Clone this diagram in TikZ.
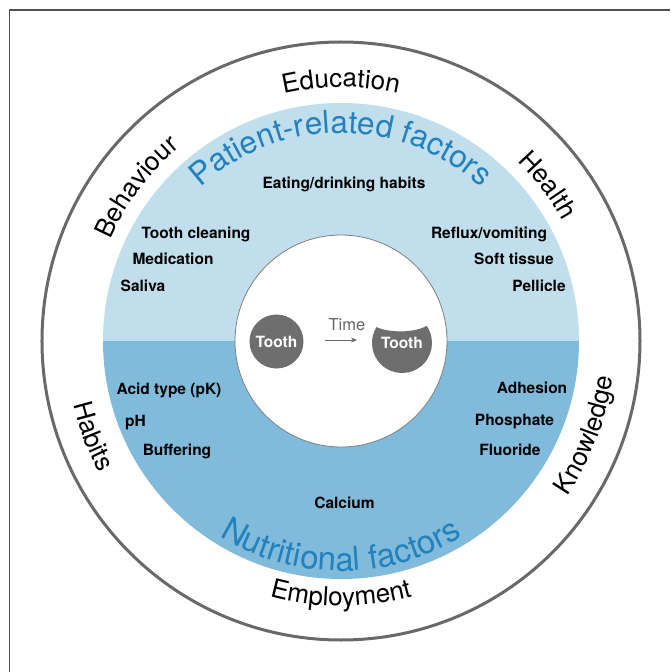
\documentclass[tikz,border=0pt]{standalone}
\usepackage{fontspec}
\setmainfont{TeX Gyre Heros}
\usetikzlibrary{decorations.text,arrows.meta}
\definecolor{lightblue}{RGB}{192,222,236}
\definecolor{darkblue}{RGB}{128,187,220}
\definecolor{titleblue}{RGB}{35,130,190}
\definecolor{ringgray}{RGB}{105,105,105}
\definecolor{toothgray}{RGB}{110,110,110}
\definecolor{framegray}{RGB}{80,80,80}
\begin{document}
\begin{tikzpicture}[x=1pt,y=1pt,
  lbl/.style={font=\bfseries\fontsize{15.5}{18}\selectfont, anchor=base, inner sep=0pt},
  toothtxt/.style={font=\bfseries\fontsize{15.5}{18}\selectfont, text=white, inner sep=0pt},
  outertxt/.style={decorate, decoration={text along path, text align=center,
     text={|\fontsize{26}{26}\selectfont|#1}}},
  titletxt/.style 2 args={decorate, decoration={text along path, text align=center,
     text={|\color{titleblue}\fontsize{#1}{#1}\selectfont|#2}}}
 ]
\useasboundingbox (-341,-331) rectangle (329,341);
\fill[white] (-341,-331) rectangle (329,341);
\coordinate (fbl) at (-331.5,-331);
\coordinate (ftl) at (-331.5,331);
\coordinate (ftr) at (329,331);
\draw[framegray, line width=1.5] (fbl) -- (ftl) -- (ftr);

\coordinate (C) at (0,0);
\draw[ringgray, line width=3] (C) circle[radius=299];
\fill[lightblue] (238,0) arc[start angle=0,end angle=180,radius=238] -- cycle;
\fill[darkblue] (-238,0) arc[start angle=180,end angle=360,radius=238] -- cycle;
\filldraw[fill=white, draw=gray, line width=0.8] (C) circle[radius=106];

% outer labels (top half: clockwise, bottom half: counter-clockwise)
\path[outertxt=Education] (130:254) arc[start angle=130,end angle=50,radius=254];
\path[outertxt=Behaviour] (183:252) arc[start angle=183,end angle=103,radius=252];
\path[outertxt=Health] (77:252) arc[start angle=77,end angle=-3,radius=252];
\path[outertxt=Employment] (230:265) arc[start angle=230,end angle=310,radius=265];
\path[outertxt=Habits] (161:275) arc[start angle=161,end angle=241,radius=275];
\path[outertxt=Knowledge] (-61:274) arc[start angle=-61,end angle=19,radius=274];

% titles
\path[titletxt={31.5}{Patient-related factors}] (150:208) arc[start angle=150,end angle=30,radius=208];
\path[titletxt={33}{Nutritional factors}] (210:230) arc[start angle=210,end angle=330,radius=230];

% inner labels
\node[lbl] (eat) at (3,152.5) {Eating/drinking habits};
\node[lbl] (clean) at (-145,102.5) {Tooth cleaning};
\node[lbl] (med) at (-168,77) {Medication};
\node[lbl] (sal) at (-198,49.5) {Saliva};
\node[lbl] (reflux) at (148,102.5) {Reflux/vomiting};
\node[lbl] (soft) at (173,77) {Soft tissue};
\node[lbl] (pell) at (198,49.5) {Pellicle};
\node[lbl] (acid) at (-172,-53.5) {Acid type (pK)};
\node[lbl] (ph) at (-205.5,-85.5) {pH};
\node[lbl] (buf) at (-164,-114.5) {Buffering};
\node[lbl] (adh) at (191,-52.5) {Adhesion};
\node[lbl] (phos) at (173.5,-84.5) {Phosphate};
\node[lbl] (flu) at (169,-114.5) {Fluoride};
\node[lbl] (cal) at (3.5,-167.5) {Calcium};

% teeth
\node[circle, fill=toothgray, minimum size=54, inner sep=0pt] (t1) at (-64.5,-0.5) {};
\node[toothtxt] (t1txt) at (t1) {Tooth};
\coordinate (t2c) at (61,-2);
\fill[toothgray] ([shift={(35:30)}]t2c) arc[start angle=35,end angle=-212,radius=30]
   .. controls (48,8) and (74,8) .. ([shift={(35:30)}]t2c) -- cycle;
\node[toothtxt] (t2txt) at (61,-1.5) {Tooth};
\coordinate (a1) at (-16,1);
\coordinate (a2) at (16,1);
\draw[gray!80!black, line width=1, -{Stealth[length=6,width=5]}] (a1) -- (a2);
\node[font=\fontsize{16.5}{18}\selectfont, text=gray!80!black, inner sep=0pt] (time) at (6,16) {Time};
\end{tikzpicture}
\end{document}
